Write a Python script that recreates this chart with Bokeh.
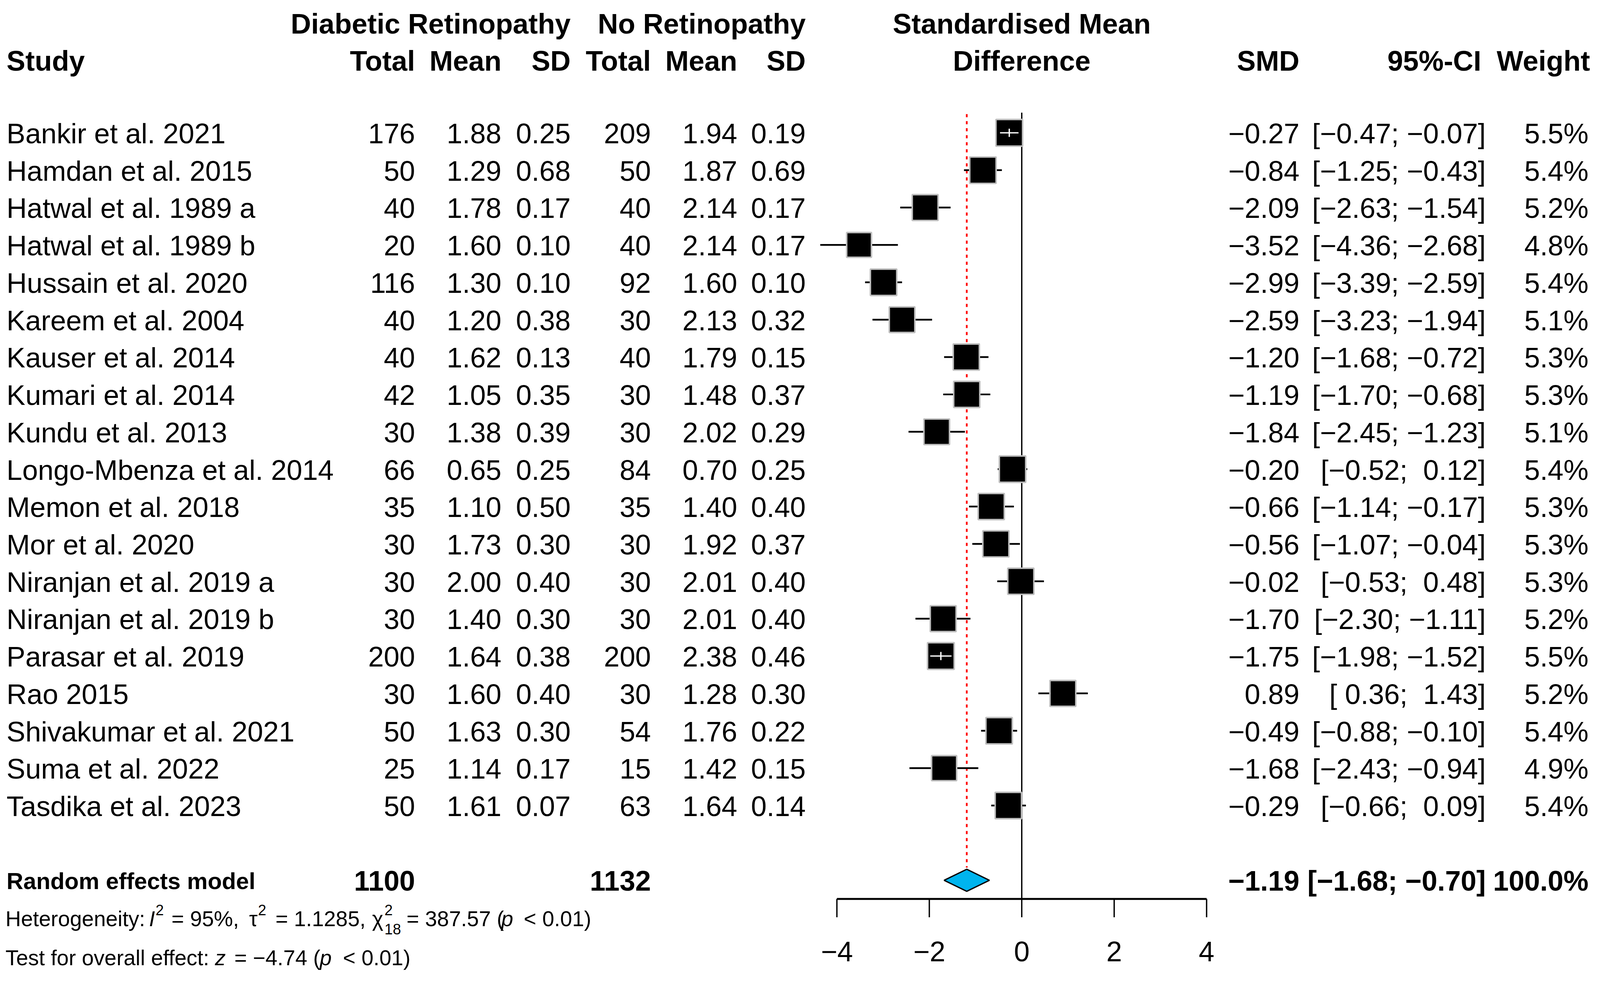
from bokeh.plotting import figure
from bokeh.models import Range1d, ColumnDataSource
from bokeh.core.properties import value
from bokeh.embed import file_html
from bokeh.resources import INLINE
import math

# ---------------- data ----------------
studies = ["Bankir et al. 2021", "Hamdan et al. 2015", "Hatwal et al. 1989 a", "Hatwal et al. 1989 b",
           "Hussain et al. 2020", "Kareem et al. 2004", "Kauser et al. 2014", "Kumari et al. 2014",
           "Kundu et al. 2013", "Longo-Mbenza et al. 2014", "Memon et al. 2018", "Mor et al. 2020",
           "Niranjan et al. 2019 a", "Niranjan et al. 2019 b", "Parasar et al. 2019", "Rao 2015",
           "Shivakumar et al. 2021", "Suma et al. 2022", "Tasdika et al. 2023"]
dr_total = [176, 50, 40, 20, 116, 40, 40, 42, 30, 66, 35, 30, 30, 30, 200, 30, 50, 25, 50]
dr_mean = [1.88, 1.29, 1.78, 1.60, 1.30, 1.20, 1.62, 1.05, 1.38, 0.65, 1.10, 1.73, 2.00, 1.40, 1.64, 1.60, 1.63, 1.14, 1.61]
dr_sd = [0.25, 0.68, 0.17, 0.10, 0.10, 0.38, 0.13, 0.35, 0.39, 0.25, 0.50, 0.30, 0.40, 0.30, 0.38, 0.40, 0.30, 0.17, 0.07]
nr_total = [209, 50, 40, 40, 92, 30, 40, 30, 30, 84, 35, 30, 30, 30, 200, 30, 54, 15, 63]
nr_mean = [1.94, 1.87, 2.14, 2.14, 1.60, 2.13, 1.79, 1.48, 2.02, 0.70, 1.40, 1.92, 2.01, 2.01, 2.38, 1.28, 1.76, 1.42, 1.64]
nr_sd = [0.19, 0.69, 0.17, 0.17, 0.10, 0.32, 0.15, 0.37, 0.29, 0.25, 0.40, 0.37, 0.40, 0.40, 0.46, 0.30, 0.22, 0.15, 0.14]
smd = [-0.27, -0.84, -2.09, -3.52, -2.99, -2.59, -1.20, -1.19, -1.84, -0.20, -0.66, -0.56, -0.02, -1.70, -1.75, 0.89, -0.49, -1.68, -0.29]
ci_lo = [-0.47, -1.25, -2.63, -4.36, -3.39, -3.23, -1.68, -1.70, -2.45, -0.52, -1.14, -1.07, -0.53, -2.30, -1.98, 0.36, -0.88, -2.43, -0.66]
ci_hi = [-0.07, -0.43, -1.54, -2.68, -2.59, -1.94, -0.72, -0.68, -1.23, 0.12, -0.17, -0.04, 0.48, -1.11, -1.52, 1.43, -0.10, -0.94, 0.09]
weight = [5.5, 5.4, 5.2, 4.8, 5.4, 5.1, 5.3, 5.3, 5.1, 5.4, 5.3, 5.3, 5.3, 5.2, 5.5, 5.2, 5.4, 4.9, 5.4]

re_smd, re_lo, re_hi, re_weight = -1.19, -1.68, -0.70, 100.0
re_dr_total, re_nr_total = 1100, 1132
axis_ticks = [-4, -2, 0, 2, 4]

# ---------------- layout constants (target picture pixels) ----------------
DPR = 1.027                  # observed page-to-picture scale
K = 1.0 / DPR
W, H = 4085, 2485            # css px
PX_PER_UNIT = 121.5
X0 = 2694.0                  # picture x of SMD = 0
ROW0 = 357.0                 # picture y of first study row
ROW_PX = 98.3
FONT = value("Liberation Sans")
FS = 74


def row_of(py):
    return 1 + (py - ROW0) / ROW_PX


def fs(px):
    return value(f"{px * K:.2f}px")


def mfmt(v, pad=False):
    s = f"{v:.2f}".replace("-", "\u2212")
    if pad and v >= 0:
        s = "\u00a0" + s
    return s


left_pic, right_pic = 8 * DPR, (8 + W) * DPR
top_pic, bot_pic = 8 * DPR, (8 + H) * DPR

p = figure(width=W, height=H,
           x_range=Range1d((left_pic - X0) / PX_PER_UNIT, (right_pic - X0) / PX_PER_UNIT),
           y_range=Range1d(row_of(bot_pic), row_of(top_pic)),
           output_backend="svg", toolbar_location=None,
           x_axis_location=None, y_axis_location=None,
           min_border=0, outline_line_color=None,
           background_fill_color="white", border_fill_color="white")
p.extra_x_ranges = {"px": Range1d(left_pic, right_pic)}
p.extra_y_ranges = {"px": Range1d(bot_pic, top_pic)}
p.xgrid.visible = False
p.ygrid.visible = False

n = len(studies)
rows = [i + 1 for i in range(n)]
re_row = n + 2
axis_row = re_row + 0.5


def txt(x, y, s, align="left", size=FS, style="normal", xr="px", yr="px"):
    kw = {}
    if xr != "default":
        kw["x_range_name"] = xr
    if yr != "default":
        kw["y_range_name"] = yr
    p.text(x=[x], y=[y], text=[s], text_align=align, text_baseline="middle",
           text_font=FONT, text_font_size=fs(size), text_font_style=style,
           text_color="black", **kw)


# ---------------- reference lines ----------------
p.segment(x0=[0], y0=[0.46], x1=[0], y1=[axis_row], line_color="black", line_width=3.5 * K)
p.segment(x0=[re_smd], y0=[0.5], x1=[re_smd], y1=[re_row - 0.34], line_color="#FF0000",
          line_width=4.5 * K, line_dash="8 10")

# ---------------- study CIs and squares ----------------
sq_outer = [74 * math.sqrt(w / 5.5) for w in weight]
inside = [(h - l) * PX_PER_UNIT < s for l, h, s in zip(ci_lo, ci_hi, sq_outer)]

ci_src = ColumnDataSource(dict(
    lo=[l for l, ins in zip(ci_lo, inside) if not ins],
    hi=[h for h, ins in zip(ci_hi, inside) if not ins],
    y=[r for r, ins in zip(rows, inside) if not ins]))
p.segment(x0="lo", y0="y", x1="hi", y1="y", source=ci_src, line_color="black", line_width=4.6 * K)

sq_src = ColumnDataSource(dict(x=smd, y=rows, size=[(s - 4) * K for s in sq_outer]))
p.scatter(x="x", y="y", size="size", marker="square", source=sq_src,
          fill_color="black", line_color="#BEBEBE", line_width=4 * K)

in_src = ColumnDataSource(dict(
    lo=[l for l, ins in zip(ci_lo, inside) if ins],
    hi=[h for h, ins in zip(ci_hi, inside) if ins],
    est=[e for e, ins in zip(smd, inside) if ins],
    y=[r for r, ins in zip(rows, inside) if ins],
    ytop=[r - 0.11 for r, ins in zip(rows, inside) if ins],
    ybot=[r + 0.11 for r, ins in zip(rows, inside) if ins]))
p.segment(x0="lo", y0="y", x1="hi", y1="y", source=in_src, line_color="white", line_width=3.5 * K)
p.segment(x0="est", y0="ytop", x1="est", y1="ybot", source=in_src, line_color="white", line_width=3.5 * K)

# ---------------- diamond ----------------
p.patch(x=[re_lo, re_smd, re_hi, re_smd],
        y=[re_row, re_row - 0.295, re_row, re_row + 0.295],
        fill_color="#00B4EE", line_color="black", line_width=3.5 * K)

# ---------------- axis ----------------
p.segment(x0=[axis_ticks[0]], y0=[axis_row], x1=[axis_ticks[-1]], y1=[axis_row],
          line_color="black", line_width=5 * K)
p.segment(x0=axis_ticks, y0=[axis_row] * len(axis_ticks), x1=axis_ticks,
          y1=[axis_row + 0.49] * len(axis_ticks), line_color="black", line_width=3.5 * K)
p.text(x=axis_ticks, y=[2511] * len(axis_ticks),
       text=[str(t).replace("-", "\u2212") for t in axis_ticks],
       text_align="center", text_baseline="middle", text_font=FONT,
       text_font_size=fs(FS), text_color="black", y_range_name="px")

# ---------------- headers ----------------
H1, H2 = 70, 168
txt(1508, H1, "Diabetic Retinopathy", "right", style="bold")
txt(2126, H1, "No Retinopathy", "right", style="bold")
txt(X0, H1, "Standardised Mean", "center", style="bold")
txt(25, H2, "Study", "left", style="bold")
for xr, lab in [(1099, "Total"), (1326, "Mean"), (1508, "SD"), (1719, "Total"), (1946, "Mean"),
                (2126, "SD"), (3424, "SMD"), (3902, "95%-CI"), (4188, "Weight")]:
    txt(xr, H2, lab, "right", style="bold")
txt(X0, H2, "Difference", "center", style="bold")

# ---------------- study columns ----------------
ytxt = [r + 2.0 / ROW_PX for r in rows]
cols = [
    (25, "left", studies),
    (1099, "right", [str(v) for v in dr_total]),
    (1326, "right", [f"{v:.2f}" for v in dr_mean]),
    (1508, "right", [f"{v:.2f}" for v in dr_sd]),
    (1719, "right", [str(v) for v in nr_total]),
    (1946, "right", [f"{v:.2f}" for v in nr_mean]),
    (2126, "right", [f"{v:.2f}" for v in nr_sd]),
    (3424, "right", [mfmt(v) for v in smd]),
    (3914, "right", [f"[{mfmt(l, True)};\u00a0{mfmt(h, True)}]" for l, h in zip(ci_lo, ci_hi)]),
    (4184, "right", [f"{w:.1f}%" for w in weight]),
]
for xpos, align, labels in cols:
    src = ColumnDataSource(dict(x=[xpos] * n, y=ytxt, t=labels))
    p.text(x="x", y="y", text="t", source=src, text_align=align, text_baseline="middle",
           text_font=FONT, text_font_size=fs(FS), text_color="black",
           x_range_name="px")

# ---------------- summary row ----------------
RC = 2325
txt(25, RC, "Random effects model", "left", size=61, style="bold")
txt(1099, RC, str(re_dr_total), "right", style="bold")
txt(1719, RC, str(re_nr_total), "right", style="bold")
txt(3424, RC, mfmt(re_smd), "right", style="bold")
txt(3914, RC, f"[{mfmt(re_lo, True)};\u00a0{mfmt(re_hi, True)}]", "right", style="bold")
txt(4184, RC, f"{re_weight:.1f}%", "right", style="bold")

# ---------------- heterogeneity / test text ----------------
FS2, FSS = 56.5, 39
SC = 1.02


def bx(x):
    return 22 + (x - 22) * SC


hc, hsup, hsub = 2424, 2401, 2451
for x, s, st, sz, b in [
    (22, "Heterogeneity:", "normal", FS2, hc),
    (392, "I", "italic", FS2, hc),
    (409, "2", "normal", FSS, hsup),
    (450, "= 95%,", "normal", FS2, hc),
    (650, "\u03c4", "normal", FS2, hc),
    (673, "2", "normal", FSS, hsup),
    (718, "= 1.1285,", "normal", FS2, hc),
    (967, "\u03c7", "normal", FS2, hc),
    (999, "2", "normal", FSS, hsup),
    (999, "18", "normal", FSS, hsub),
    (1056, "= 387.57 (", "normal", FS2, hc),
    (1300, "p", "italic", FS2, hc),
    (1358, "< 0.01)", "normal", FS2, hc),
]:
    txt(bx(x), b, s, "left", size=sz, style=st)

tc = 2527
for x, s, st in [
    (22, "Test for overall effect:", "normal"),
    (562, "z", "italic"),
    (612, "= \u22124.74 (", "normal"),
    (832, "p", "italic"),
    (892, "< 0.01)", "normal"),
]:
    txt(bx(x), tc, s, "left", size=FS2, style=st)

open("out.html", "w").write(file_html(p, INLINE))
